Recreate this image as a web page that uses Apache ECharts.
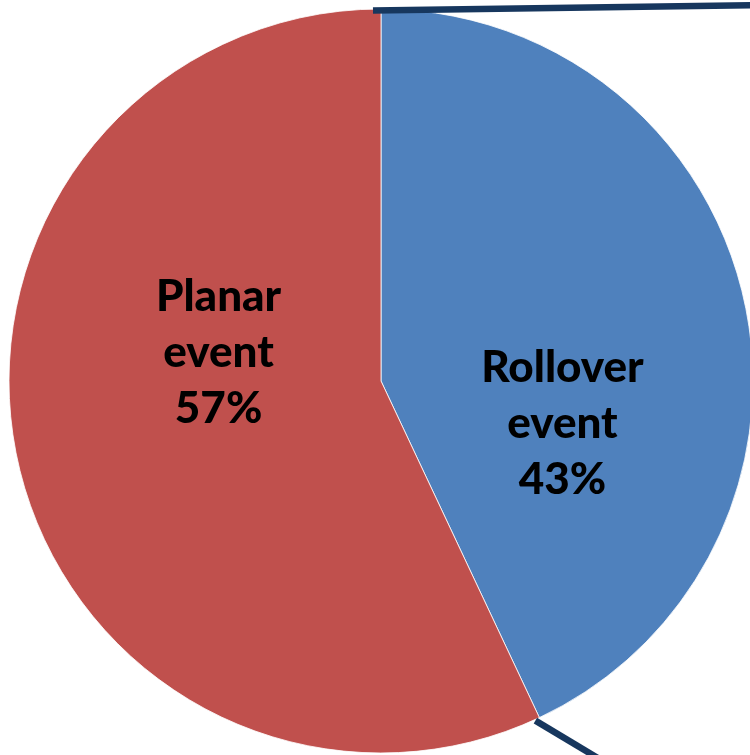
<!DOCTYPE html>
<html>
<head>
<meta charset="utf-8">
<script src="https://cdn.jsdelivr.net/npm/echarts@6/dist/echarts.min.js"></script>
<style>
  html, body { margin: 0; padding: 0; background: #ffffff; }
  #chart { width: 750px; height: 755px; }
</style>
</head>
<body>
<div id="chart"></div>
<script>
// Share of events by type
const categories = ['Rollover\nevent', 'Planar\nevent'];
const shares = [43, 57];
const colors = ['#4F81BD', '#C0504D'];

// Pie geometry (pixels)
const cx = 381, cy = 381, radius = 372;

const chart = echarts.init(document.getElementById('chart'), null, { renderer: 'canvas' });

// Connector lines toward the secondary breakdown, anchored on the slice edges
const total = shares.reduce((a, b) => a + b, 0);
const splitAngle = shares[0] / total * 2 * Math.PI; // clockwise from 12 o'clock
const topPt = [cx, cy - radius];
const splitPt = [cx + radius * Math.sin(splitAngle), cy - radius * Math.cos(splitAngle)];

const connectorStyle = { stroke: '#17375E', fill: null, lineWidth: 6.5, lineCap: 'butt' };

chart.setOption({
  animation: false,
  backgroundColor: '#ffffff',
  series: [{
    type: 'pie',
    center: [cx, cy],
    radius: [0, radius],
    startAngle: 90,
    clockwise: true,
    silent: true,
    data: categories.map((name, i) => ({
      name: name,
      value: shares[i],
      itemStyle: { color: colors[i] }
    })),
    itemStyle: { borderColor: '#ffffff', borderWidth: 0.8 },
    label: {
      show: true,
      position: 'inner',
      formatter: '{b}\n{c}%',
      color: '#000000',
      fontFamily: 'Lato',
      fontWeight: 900,
      fontSize: 44,
      lineHeight: 56,
      align: 'center'
    },
    labelLine: { show: false },
    labelLayout: function (params) {
      return params.dataIndex === 0 ? { dx: -3, dy: 84 } : { dx: 22, dy: -69 };
    }
  }],
  graphic: [
    {
      type: 'polyline',
      z: 100,
      shape: { points: [[topPt[0] - 8, topPt[1] + 1.5], [760, 5]] },
      style: connectorStyle
    },
    {
      type: 'polyline',
      z: 100,
      shape: { points: [[splitPt[0] - 4, splitPt[1] + 3], [splitPt[0] - 4 + 80, splitPt[1] + 3 + 48]] },
      style: connectorStyle
    }
  ]
});
</script>
</body>
</html>
